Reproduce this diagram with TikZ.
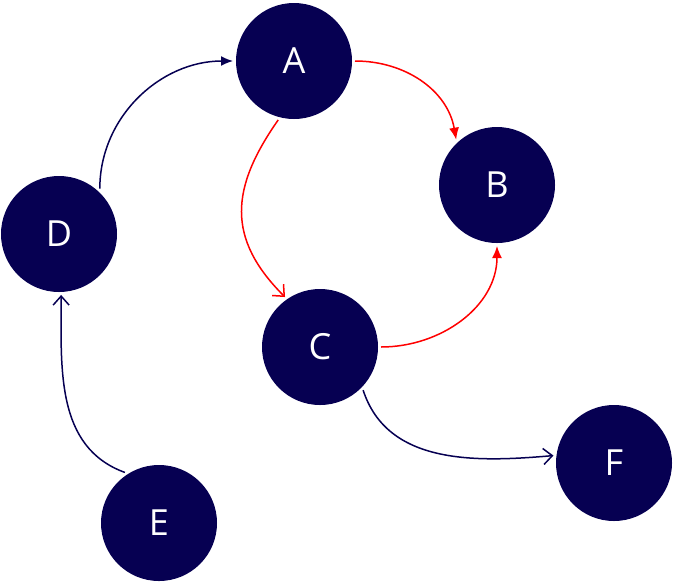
\documentclass[tikz,border=0pt]{standalone}
\usepackage{fontspec}
\setmainfont{Open Sans}
\usetikzlibrary{arrows.meta}
\definecolor{navy}{RGB}{6,0,82}
\definecolor{edgered}{RGB}{255,0,0}
\begin{document}
\begin{tikzpicture}[x=1pt,y=-1pt,
  vertex/.style={circle,fill=navy,draw=none,minimum size=116pt,inner sep=0pt,outer sep=3pt,text=white,font=\fontsize{36}{42}\selectfont},
  navyedge/.style={draw=navy,line width=1.5pt},
  rededge/.style={draw=edgered,line width=1.5pt},
  fullhead/.style={-{Latex[length=12pt,width=10pt]}},
  openhead/.style={-{Straight Barb[length=9pt,width=16pt,line width=1.5pt]}}]
\useasboundingbox (0,0) rectangle (674,582);
\node[vertex] (A) at (294,61) {A};
\node[vertex] (B) at (497,185) {B};
\node[vertex] (C) at (320,347) {C};
\node[vertex] (D) at (59,234) {D};
\node[vertex] (E) at (159,523) {E};
\node[vertex] (F) at (614,463) {F};
\draw[navyedge,fullhead] (D.48) to[out=90,in=180] (A.west);
\draw[rededge,fullhead] (A.east) to[out=0,in=100] (B.132);
\draw[rededge,openhead] (A.-105) to[out=-125,in=135,looseness=1.2] (C.125);
\draw[rededge,fullhead] (C.east) to[out=0,in=-90] (B.-90);
\draw[navyedge,openhead] (E.124) to[out=160,in=-90] (D.-88);
\draw[navyedge,openhead] (C.-45) to[out=-72,in=185] (F.173);
\end{tikzpicture}
\end{document}
